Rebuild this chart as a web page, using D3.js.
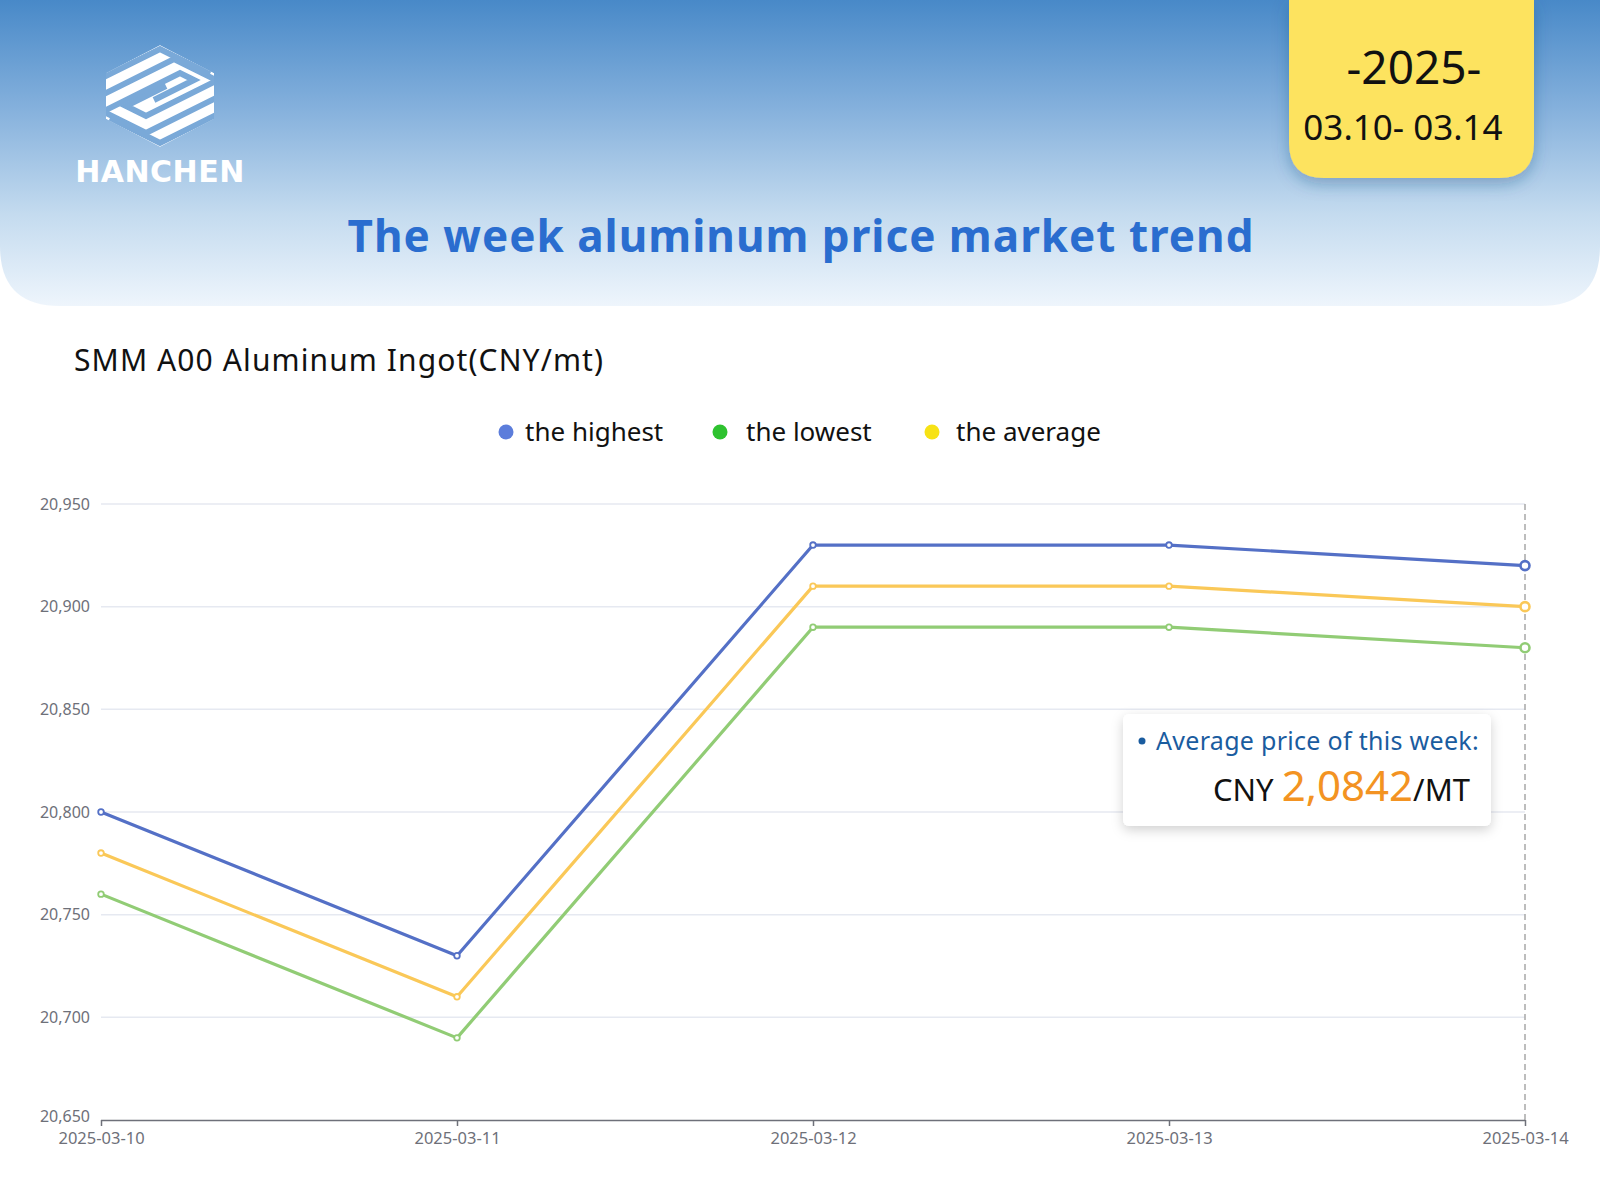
<!DOCTYPE html>
<html>
<head>
<meta charset="utf-8">
<script src="https://cdn.jsdelivr.net/npm/d3@7"></script>
<style>
  html, body { margin: 0; padding: 0; background: #fff; }
  svg { display: block; }
</style>
</head>
<body>
<div id="chart"></div>
<script>
// chart data
var dates = ["2025-03-10", "2025-03-11", "2025-03-12", "2025-03-13", "2025-03-14"];
var highest = [20800, 20730, 20930, 20930, 20920];
var lowest = [20760, 20690, 20890, 20890, 20880];
var average = [20780, 20710, 20910, 20910, 20900];
var yTicks = [20650, 20700, 20750, 20800, 20850, 20900, 20950];
var legendNames = ["the highest", "the lowest", "the average"];

var W = 1600, H = 1200;
var svg = d3.select("#chart").append("svg")
    .attr("width", W).attr("height", H);

var defs = svg.append("defs");
var grad = defs.append("linearGradient").attr("id", "hdr")
    .attr("x1", 0).attr("y1", 0).attr("x2", 0).attr("y2", 1);
grad.append("stop").attr("offset", "0%").attr("stop-color", "#4889c8");
grad.append("stop").attr("offset", "35%").attr("stop-color", "#84b0dc");
grad.append("stop").attr("offset", "70%").attr("stop-color", "#c4dbef");
grad.append("stop").attr("offset", "100%").attr("stop-color", "#eef5fc");

var sh = defs.append("filter").attr("id", "shadow")
    .attr("x", "-20%").attr("y", "-20%").attr("width", "140%").attr("height", "150%");
sh.append("feDropShadow").attr("dx", 0).attr("dy", 6).attr("stdDeviation", 8)
    .attr("flood-color", "#1d4e80").attr("flood-opacity", 0.35);

var sh2 = defs.append("filter").attr("id", "shadow2")
    .attr("x", "-20%").attr("y", "-20%").attr("width", "140%").attr("height", "150%");
sh2.append("feDropShadow").attr("dx", 0).attr("dy", 4).attr("stdDeviation", 6)
    .attr("flood-color", "#000").attr("flood-opacity", 0.18);

// header background, rounded bottom corners
var hb = 306, r = 60;
svg.append("path")
    .attr("d", "M0,0 H" + W + " V" + (hb - r) + " Q" + W + "," + hb + " " + (W - r) + "," + hb +
        " H" + r + " Q0," + hb + " 0," + (hb - r) + " Z")
    .attr("fill", "url(#hdr)");

// logo
var logo = svg.append("g").attr("transform", "translate(160,96)");
var hex = [[0,-51],[54,-23],[54,23],[0,51],[-54,23],[-54,-23]];
defs.append("clipPath").attr("id", "hexclip")
    .append("polygon").attr("points", hex.map(function(p){ return p.join(","); }).join(" "));
var lg = logo.append("g").attr("clip-path", "url(#hexclip)");
lg.append("polygon").attr("points", hex.map(function(p){ return p.join(","); }).join(" "))
    .attr("fill", "#fff");
// gaps between the stripes
var gapColor = "#7aa9d8";
[[[-60,-17],[0,-47],[50,-22]],
 [[-60,0],[14,-37],[60,-14]],
 [[-60,17],[20,-23],[34,-16],[-6,4]],
 [[60,-17],[-14,20],[-34,10],[6,-10]],
 [[60,0],[-14,37],[-60,14]],
 [[60,17],[0,47],[-50,22]]].forEach(function(pts){
    lg.append("polyline").attr("points", pts.map(function(p){ return p.join(","); }).join(" "))
        .attr("fill", "none").attr("stroke", gapColor).attr("stroke-width", 6)
        .attr("stroke-linejoin", "miter");
});
svg.append("text").attr("x", 160).attr("y", 182)
    .attr("text-anchor", "middle")
    .style("font-family", "'DejaVu Sans', sans-serif").style("font-weight", "bold")
    .style("font-size", "30px").style("fill", "#fff").style("letter-spacing", "0.5px")
    .text("HANCHEN");

// date badge
svg.append("path")
    .attr("d", "M1289,0 H1534 V143 Q1534,178 1499,178 H1324 Q1289,178 1289,143 Z")
    .attr("fill", "#fde35e").attr("filter", "url(#shadow)");
svg.append("text").attr("x", 1414).attr("y", 84).attr("text-anchor", "middle")
    .style("font-family", "'Noto Sans', sans-serif").style("font-size", "46px").style("fill", "#111")
    .text("-2025-");
svg.append("text").attr("x", 1403).attr("y", 140).attr("text-anchor", "middle")
    .style("font-family", "'Noto Sans', sans-serif").style("font-size", "35px").style("fill", "#111")
    .text("03.10- 03.14");

// title
svg.append("text").attr("x", 801).attr("y", 252).attr("text-anchor", "middle")
    .style("font-family", "'Noto Sans', sans-serif").style("font-weight", "bold")
    .style("font-size", "44px").style("fill", "#2a6dcf").style("letter-spacing", "1px")
    .text("The week aluminum price market trend");

svg.append("text").attr("x", 74).attr("y", 371)
    .style("font-family", "'Noto Sans', sans-serif").style("font-size", "30px").style("fill", "#111")
    .style("letter-spacing", "1.1px")
    .text("SMM A00 Aluminum Ingot(CNY/mt)");

// legend
var legendDots = ["#5c7ddb", "#2ec22f", "#f7e215"];
var legendX = [506, 720, 932];
var legendTextX = [525, 746, 956];
var leg = svg.append("g");
legendNames.forEach(function(name, i){
    leg.append("circle").attr("cx", legendX[i]).attr("cy", 432).attr("r", 7.5)
        .attr("fill", legendDots[i]);
    leg.append("text").attr("x", legendTextX[i]).attr("y", 441)
        .style("font-family", "'Noto Sans', sans-serif").style("font-size", "26px").style("fill", "#111")
        .text(name);
});

// plot
var x = d3.scalePoint().domain(dates).range([101, 1525]);
var y = d3.scaleLinear().domain([20650, 20950]).range([1120, 504]);

var grid = svg.append("g");
grid.selectAll("line").data(yTicks.slice(1)).enter().append("line")
    .attr("x1", 101).attr("x2", 1525)
    .attr("y1", function(d){ return y(d); }).attr("y2", function(d){ return y(d); })
    .attr("stroke", "#e6e9f1").attr("stroke-width", 1.5);

var yAxis = svg.append("g").attr("transform", "translate(101,0)")
    .call(d3.axisLeft(y).tickValues(yTicks).tickSize(0).tickPadding(11)
        .tickFormat(d3.format(",")));
yAxis.select(".domain").remove();
yAxis.selectAll("text")
    .style("font-family", "'Noto Sans', sans-serif").style("font-size", "16px").style("fill", "#6e7079");
yAxis.selectAll(".tick").filter(function(d){ return d === 20650; }).select("text")
    .attr("dy", "0.1em");

// axis pointer
svg.append("line").attr("x1", x(dates[4])).attr("x2", x(dates[4]))
    .attr("y1", 504).attr("y2", 1120)
    .attr("stroke", "#a8a8a8").attr("stroke-width", 1.5).attr("stroke-dasharray", "6,4");

var xAxis = svg.append("g").attr("transform", "translate(0,1120)")
    .call(d3.axisBottom(x).tickSize(6).tickPadding(6));
xAxis.select(".domain").attr("stroke", "#6e7079").attr("stroke-width", 1.5)
    .attr("d", "M101,0.5H1525");
xAxis.selectAll(".tick line").attr("stroke", "#6e7079").attr("stroke-width", 1.5);
xAxis.selectAll("text")
    .style("font-family", "'Noto Sans', sans-serif").style("font-size", "16.5px").style("fill", "#6e7079");

var series = [
    {name: "lowest", values: lowest, color: "#91cc75"},
    {name: "average", values: average, color: "#fac858"},
    {name: "highest", values: highest, color: "#5470c6"}
];
var line = d3.line().x(function(d, i){ return x(dates[i]); }).y(function(d){ return y(d); });
series.forEach(function(s){
    svg.append("path").datum(s.values).attr("d", line)
        .attr("fill", "none").attr("stroke", s.color).attr("stroke-width", 3.2)
        .attr("stroke-linejoin", "round");
    svg.selectAll(null).data(s.values).enter().append("circle")
        .attr("cx", function(d, i){ return x(dates[i]); })
        .attr("cy", function(d){ return y(d); })
        .attr("r", function(d, i){ return i === dates.length - 1 ? 4.5 : 2.8; })
        .attr("fill", "#fff").attr("stroke", s.color)
        .attr("stroke-width", function(d, i){ return i === dates.length - 1 ? 2.6 : 1.8; });
});

// info box
var box = svg.append("g");
box.append("rect").attr("x", 1123).attr("y", 714).attr("width", 368).attr("height", 112)
    .attr("rx", 6).attr("fill", "#fff").attr("filter", "url(#shadow2)");
box.append("circle").attr("cx", 1142).attr("cy", 741).attr("r", 3.5).attr("fill", "#1a5c9f");
box.append("text").attr("x", 1156).attr("y", 750)
    .style("font-family", "'Noto Sans', sans-serif").style("font-size", "25px").style("fill", "#1a5c9f")
    .style("letter-spacing", "0.3px")
    .text("Average price of this week:");
var t = box.append("text").attr("x", 1470).attr("y", 801).attr("text-anchor", "end")
    .style("font-family", "'Noto Sans', sans-serif").style("fill", "#111");
t.append("tspan").style("font-size", "31px").text("CNY ");
t.append("tspan").style("font-size", "42px").style("fill", "#f39322").text("2,0842");
t.append("tspan").style("font-size", "31px").text("/MT");
</script>
</body>
</html>
